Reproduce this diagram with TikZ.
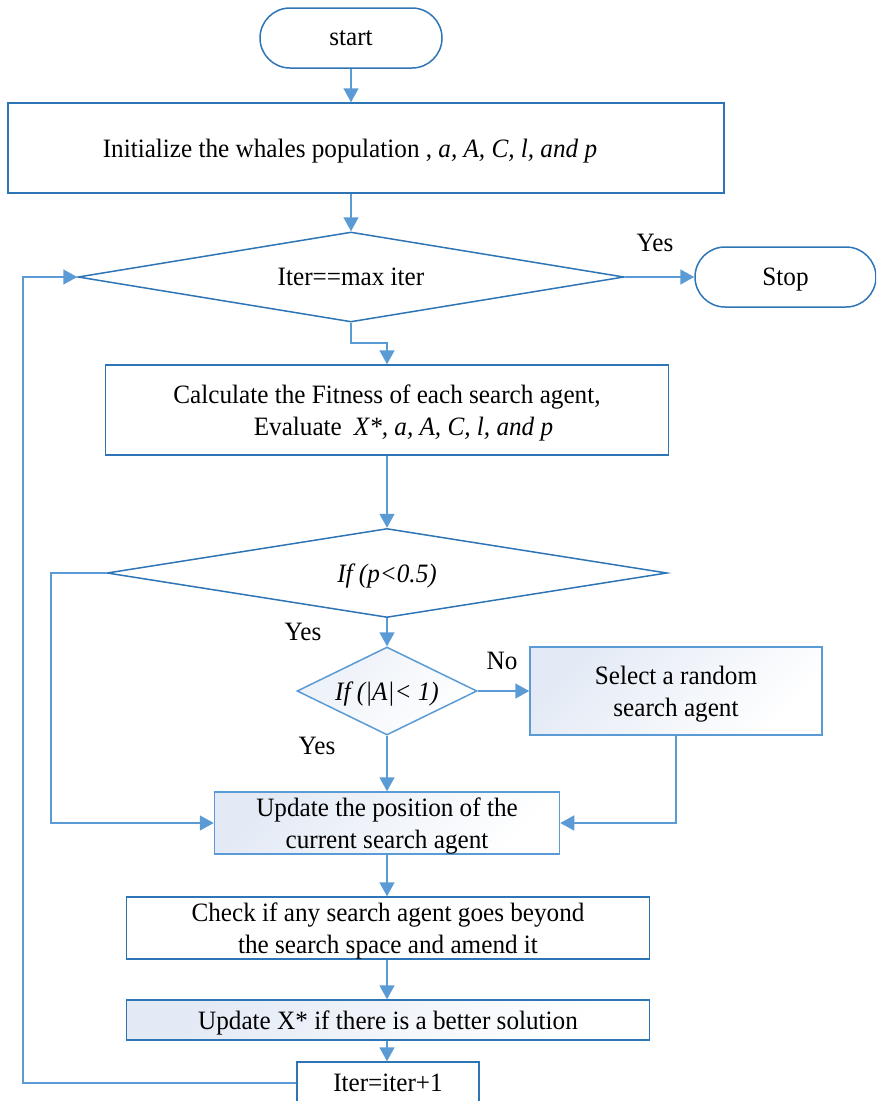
\documentclass[tikz,border=0pt]{standalone}
\usepackage{fontspec}
\setmainfont{Liberation Serif}[FakeStretch=0.95]
\usetikzlibrary{shapes.geometric, arrows.meta}
\definecolor{darkline}{HTML}{2E75B6}
\definecolor{lightline}{HTML}{5B9BD5}
\definecolor{gradblue}{HTML}{E3EAF5}
\tikzset{
	terminal/.style={draw=darkline, line width=1.5pt, rounded corners=30pt, inner sep=0pt, text depth=0pt},
	stepbox/.style={draw=darkline, line width=1.5pt, inner sep=0pt, align=center, text depth=0pt},
	softbox/.style={draw=lightline, line width=1.5pt, inner sep=0pt, align=center, text depth=0pt,
		left color=gradblue, right color=white, shading angle=45},
	decision/.style={draw=darkline, line width=1.5pt, diamond, inner sep=0pt, text depth=0pt},
	flow/.style={draw=lightline, line width=1.6pt, -{Triangle[length=14pt,width=15pt]}},
}
\begin{document}
\fontsize{26.5}{32}\selectfont
\begin{tikzpicture}[x=1pt, y=-1pt]
	\useasboundingbox (0,0) rectangle (876,1101);
	\clip (0,0) rectangle (876,1101);
	% Paths, nodes and wires:
	\node[terminal, minimum width=182pt, minimum height=60pt] (start) at (351,38) {start};
	\node[stepbox, minimum width=716pt, minimum height=90pt] (init) at (366,148)
		{Initialize the whales population , \textit{a, A, C, l, and p}\hspace*{32pt}};
	\node[decision, aspect=6.07, minimum width=546pt, minimum height=90pt] (iterchk) at (351,277) {Iter==max iter};
	\node[terminal, minimum width=181pt, minimum height=60pt] (stop) at (785.5,277) {Stop};
	\node[stepbox, minimum width=563pt, minimum height=90pt] (calc) at (387,410)
		{Calculate the Fitness of each search agent,\\ \hspace*{33pt}Evaluate\hspace{12pt}\textit{X*, a, A, C, l, and p}};
	\node[decision, aspect=6.3, minimum width=560pt, minimum height=89pt] (pchk) at (387,573) {\textit{If (p<0.5)}};
	\node[decision, aspect=2.05, draw=lightline, left color=gradblue!70, right color=white, shading angle=45,
		minimum width=180pt, minimum height=88pt] (achk) at (387,691) {\textit{If (|A|< 1)}};
	\node[softbox, minimum width=292pt, minimum height=88pt] (rand) at (676,691)
		{Select a random\\ search agent};
	\node[softbox, minimum width=345pt, minimum height=62pt] (upd) at (387,823)
		{Update the position of the\\ current search agent};
	\node[stepbox, minimum width=523pt, minimum height=62pt] (check) at (388,928)
		{Check if any search agent goes beyond\\ the search space and amend it};
	\node[softbox, draw=darkline, minimum width=523pt, minimum height=40pt] (best) at (388,1020)
		{Update X* if there is a better solution};
	\node[stepbox, minimum width=182pt, minimum height=42pt] (iter) at (388,1083) {Iter=iter+1};

	\node (yes1) at (655,243) {Yes};
	\node (yes2) at (303,632) {Yes};
	\node (no1) at (502,661) {No};
	\node (yes3) at (317,746) {Yes};

	\draw[flow] (start.south) -- (start.south |- init.north);
	\draw[flow] (iterchk.north |- init.south) -- (iterchk.north);
	\draw[flow] (iterchk.east) -- (stop.west);
	\draw[flow] (iterchk.south) -- ++(0,20) -| (calc.north);
	\draw[flow] (calc) -- (pchk);
	\draw[flow] (pchk.west) -- ++(-55,0) |- (upd.west);
	\draw[flow] (pchk.south) -- (achk.north);
	\draw[flow] (achk.east) -- (rand.west);
	\draw[flow] (achk.south) -- (upd.north);
	\draw[flow] (rand.south) |- (upd.east);
	\draw[flow] (upd.south) -- (upd.south |- check.north);
	\draw[flow] (upd.south |- check.south) -- (upd.south |- best.north);
	\draw[flow] (upd.south |- best.south) -- (upd.south |- iter.north);
	\draw[flow] (iter.west) -- ++(-273,0) |- (iterchk.west);
\end{tikzpicture}
\end{document}
